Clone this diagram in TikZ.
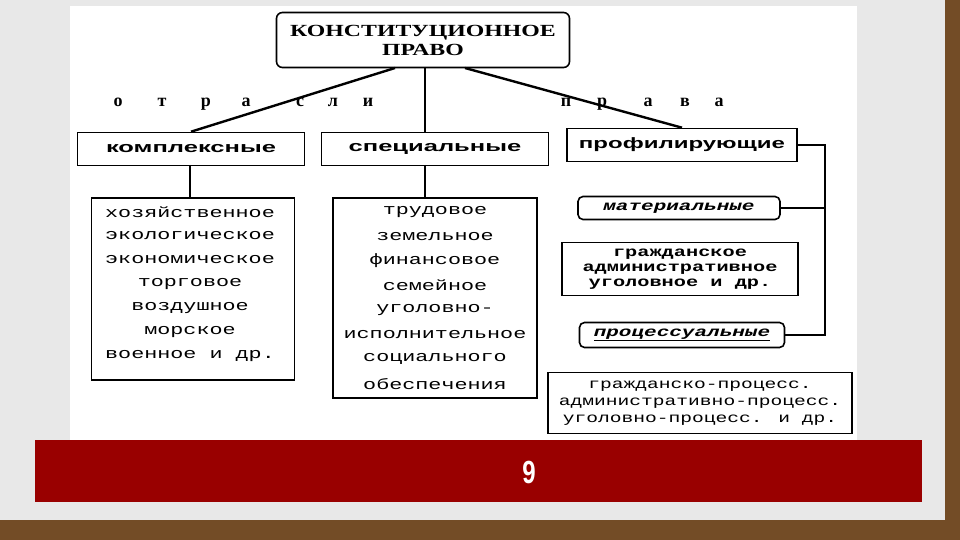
\documentclass[tikz,border=0pt]{standalone}
\usepackage{graphicx}
\usepackage{fontspec}
\newfontfamily\titlefont{Liberation Serif}
\newfontfamily\headfont{Liberation Sans}
\newfontfamily\listfont{Liberation Mono}
\newcommand\sx[2]{\scalebox{#1}[1]{#2}}
\tikzset{
    box/.style={draw, line width=1.6pt, inner sep=0pt},
    link/.style={line width=2.4pt},
    head/.style={font=\headfont\bfseries\fontsize{15}{16}\selectfont},
    item/.style={font=\listfont\fontsize{15}{16}\selectfont},
    spaced/.style={anchor=base, font=\titlefont\bfseries\fontsize{18}{18}\selectfont},
    kind/.style={draw, line width=1.6pt, rounded corners=5pt, font=\listfont\bfseries\itshape\fontsize{14}{14}\selectfont}
}
\begin{document}
\begin{tikzpicture}[x=1pt, y=-1pt]
    \fill[gray!18] (0,0) rectangle (960,540);
    \fill[white] (70,6) rectangle (857,440);
    \fill[brown!60!black] (0,520) rectangle (960,540);
    \fill[brown!60!black] (945,0) rectangle (960,540);
    \fill[red!60!black] (35,440) rectangle (922,502);
    \node (page) at (529,472) [text=white, font=\headfont\bfseries\fontsize{32}{32}\selectfont] {\sx{0.75}{9}};

    % top
    \node (top) [box, rounded corners=6pt, minimum width=293pt, minimum height=55pt, align=center,
        font=\titlefont\bfseries\fontsize{17}{19}\selectfont] at (423,40) {\sx{1.4}{КОНСТИТУЦИОННОЕ}\\\sx{1.4}{ПРАВО}};
    \foreach \l/\x [count=\i] in {о/118,т/162,р/206,а/246,с/300,л/333,и/368,п/566,р/602,а/648,в/685,а/719}
        \node (s\i) [spaced] at (\x,107) {\l};

    % branches
    \node (kompl) [box, head, minimum width=227pt, minimum height=33pt] at (191,149) {\sx{1.7}{комплексные}};
    \node (spec)  [box, head, minimum width=227pt, minimum height=33pt] at (435,149) {\sx{1.7}{специальные}};
    \node (prof)  [box, head, minimum width=230pt, minimum height=33pt] at (682,145) {\sx{1.6}{профилирующие}};

    \draw[link] (395,68) -- (kompl.north);
    \draw[link] (425,68) -- (425,132);
    \draw[link] (465,68) -- (prof.north);

    % lists
    \node (list1) [box, minimum width=203pt, minimum height=182pt] at (193,289) {};
    \foreach \t [count=\i] in {хозяйственное,экологическое,экономическое,торговое,воздушное,морское,военное и др.}
        \node (a\i) [item] at (190,188+24*\i) {\sx{1.45}{\t}};
    \node (list2) [box, minimum width=204pt, minimum height=200pt] at (435,298) {};
    \foreach \t [count=\i] in {трудовое,земельное,финансовое,семейное,уголовно-,исполнительное,социального,обеспечения}
        \node (b\i) [item] at (435,187+24.6*\i) {\sx{1.45}{\t}};
    \draw[link] (190,165) -- (190,198);
    \draw[link] (425,165) -- (425,198);

    % right side
    \node (mat) [kind, minimum width=202pt, minimum height=23pt, inner sep=0pt] at (679,208) {\sx{1.5}{материальные}};
    \node (mlist) [box, minimum width=236pt, minimum height=53pt, align=center,
        font=\listfont\bfseries\fontsize{14}{15}\selectfont] at (680,269)
        {\sx{1.45}{гражданское}\\\sx{1.45}{административное}\\\sx{1.45}{уголовное и др.}};
    \node (proc) [kind, minimum width=205pt, minimum height=25pt, inner sep=0pt] at (682,335) {\underline{\sx{1.5}{процессуальные}}};
    \node (plist) [box, minimum width=304pt, minimum height=61pt, align=center,
        font=\listfont\fontsize{14}{17}\selectfont] at (700,403)
        {\sx{1.4}{гражданско-процесс.}\\\sx{1.4}{административно-процесс.}\\\sx{1.4}{уголовно-процесс. и др.}};
    \coordinate (rt) at (825,145);
    \coordinate (rb) at (825,335);
    \draw[link] (prof.east) -- (rt) -- (rb) -- (proc.east);
    \draw[link] (mat.east) -- (mat.east -| rt);
\end{tikzpicture}
\end{document}
